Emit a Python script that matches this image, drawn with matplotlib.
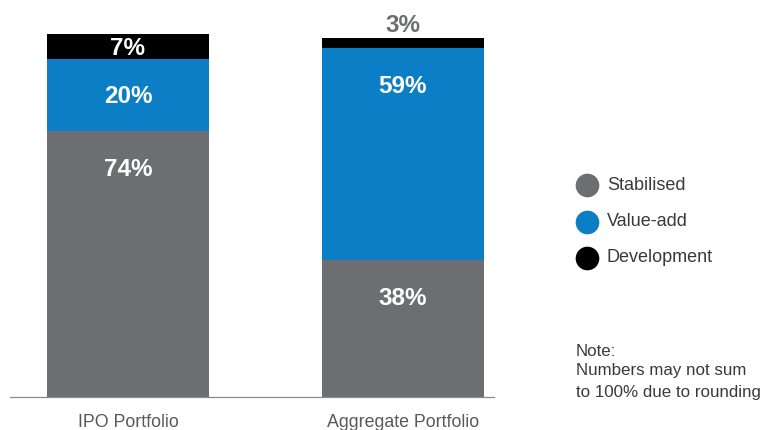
import matplotlib.pyplot as plt

plt.rcParams['font.family'] = ['Liberation Sans', 'DejaVu Sans']

portfolios = ['IPO Portfolio', 'Aggregate Portfolio']
series = ['Stabilised', 'Value-add', 'Development']
stabilised = [74, 38]
value_add = [20, 59]
development = [7, 3]
colors = ['#6d6e71', '#0b7ec6', '#000000']
text_grey = '#58595b'

W, H = 764, 430
fig = plt.figure(figsize=(W / 100, H / 100), dpi=100)

# main axes, placed in pixel terms
left, right, bottom, top = 10, 494, 397, 10
ax = fig.add_axes([left / W, (H - bottom) / H, (right - left) / W, (bottom - top) / H])
ax.set_xlim(-0.429, 1.331)
ax.set_ylim(0, 107.7)

x = range(len(portfolios))
width = 0.589
base = [0] * len(portfolios)
for name, vals, col in zip(series, [stabilised, value_add, development], colors):
    ax.bar(x, vals, width, bottom=base, color=col, linewidth=0)
    for i, v in enumerate(vals):
        seg_top = base[i] + v
        if v >= 5:
            ax.text(i, seg_top - min(v / 2 + 0.5, 10.7), f'{v}%', ha='center', va='center',
                    color='white', fontsize=17.5, fontweight='bold')
        else:
            ax.text(i, seg_top + 0.2, f'{v}%', ha='center', va='bottom',
                    color='#6d6e71', fontsize=17.5, fontweight='bold')
    base = [b + v for b, v in zip(base, vals)]

for s in ['top', 'right', 'left']:
    ax.spines[s].set_visible(False)
ax.spines['bottom'].set_color('#8a8b8d')
ax.spines['bottom'].set_linewidth(0.9)
ax.set_yticks([])
ax.set_xticks(list(x))
ax.set_xticklabels(portfolios, fontsize=12.8, color=text_grey)
ax.tick_params(axis='x', length=0, pad=12)

# legend drawn by hand on an overlay in pixel coords
ov = fig.add_axes([0, 0, 1, 1])
ov.set_xlim(0, W)
ov.set_ylim(H, 0)
ov.axis('off')
ys = [185, 222, 258]
for name, col, y in zip(series, colors, ys):
    ov.scatter([587], [y], s=290, color=col, linewidths=0)
    ov.text(607, y, name, va='center', ha='left', fontsize=13, color='#3a3a3c')

ov.text(576, 351, 'Note:', va='center', ha='left', fontsize=12.2, color='#3a3a3c')
ov.text(576, 371, 'Numbers may not sum', va='center', ha='left', fontsize=12.2, color='#3a3a3c')
ov.text(576, 392, 'to 100% due to rounding', va='center', ha='left', fontsize=12.2, color='#3a3a3c')

fig.savefig('out.png', dpi=100)
